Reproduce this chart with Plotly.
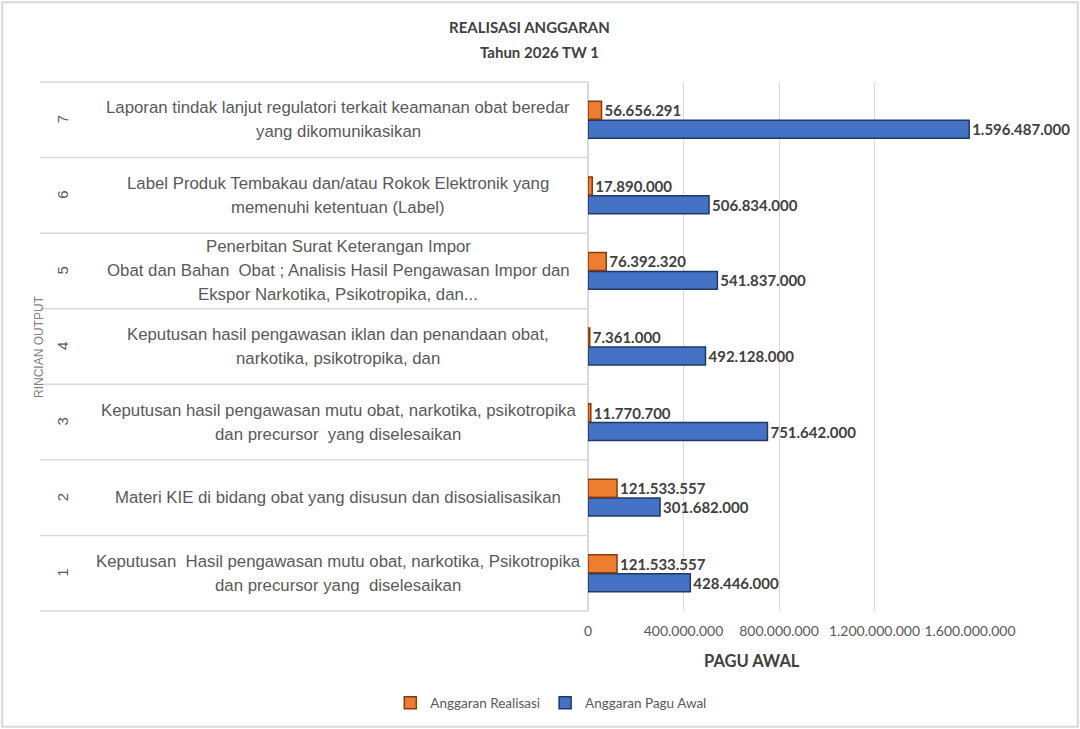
import plotly.graph_objects as go

# data
rows = ["1", "2", "3", "4", "5", "6", "7"]
row_labels = [
    ["Keputusan  Hasil pengawasan mutu obat, narkotika, Psikotropika", "dan precursor yang  diselesaikan"],
    ["Materi KIE di bidang obat yang disusun dan disosialisasikan"],
    ["Keputusan hasil pengawasan mutu obat, narkotika, psikotropika", "dan precursor  yang diselesaikan"],
    ["Keputusan hasil pengawasan iklan dan penandaan obat,", "narkotika, psikotropika, dan"],
    ["Penerbitan Surat Keterangan Impor", "Obat dan Bahan  Obat ; Analisis Hasil Pengawasan Impor dan",
     "Ekspor Narkotika, Psikotropika, dan..."],
    ["Label Produk Tembakau dan/atau Rokok Elektronik yang", "memenuhi ketentuan (Label)"],
    ["Laporan tindak lanjut regulatori terkait keamanan obat beredar", "yang dikomunikasikan"],
]
realisasi = [121533557, 121533557, 11770700, 7361000, 76392320, 17890000, 56656291]
pagu_awal = [428446000, 301682000, 751642000, 492128000, 541837000, 506834000, 1596487000]
x_ticks = [0, 400000000, 800000000, 1200000000, 1600000000]

W, H = 1080, 729
px = lambda v: v / W
py = lambda v: 1 - v / H

label_font = dict(family="Liberation Sans", size=16.8, color="#595959")
value_font = dict(family="Lato", size=15, color="#404040", weight="bold")
title_font = dict(family="Lato", size=15, color="#404040", weight="bold")

fig = go.Figure()

fig.add_trace(go.Bar(
    name="Anggaran Pagu Awal", y=rows, x=pagu_awal, orientation="h",
    marker=dict(color="#4472C4", line=dict(color="#1F3864", width=1.5)),
    text=pagu_awal, texttemplate="%{x:,}", textposition="outside",
    textfont=value_font, constraintext="none", cliponaxis=False,
    legendrank=2,
))
fig.add_trace(go.Bar(
    name="Anggaran Realisasi", y=rows, x=realisasi, orientation="h",
    marker=dict(color="#ED7D31", line=dict(color="#843C0C", width=1.5)),
    text=realisasi, texttemplate="%{x:,}", textposition="outside",
    textfont=value_font, constraintext="none", cliponaxis=False,
    legendrank=1,
))

# row labels in the category "table"
for i, lines in enumerate(row_labels):
    n = len(lines)
    for j, line in enumerate(lines):
        fig.add_annotation(
            x=px(338), xref="paper", y=i, yref="y", text=line, showarrow=False,
            xanchor="center", yanchor="middle", yshift=((n - 1) / 2 - j) * 24,
            font=label_font,
        )
    fig.add_annotation(
        x=px(52), xref="paper", y=i, yref="y", text=rows[i], showarrow=False,
        textangle=-90, font=dict(family="Liberation Sans", size=15, color="#595959"),
    )

# table lines
sep_color = "#D9D9D9"
y_top, y_bot = 82, 611
for k in range(len(rows) + 1):
    yy = y_top + (y_bot - y_top) * k / len(rows)
    fig.add_shape(type="line", xref="paper", yref="paper", x0=px(40), x1=px(588),
                  y0=py(yy), y1=py(yy), line=dict(color=sep_color, width=1.5))

# outer border
fig.add_shape(type="rect", xref="paper", yref="paper", x0=0.002, x1=0.998, y0=0.003, y1=0.997,
              line=dict(color="#D9D9D9", width=2))

fig.add_annotation(x=px(529), y=py(27), xref="paper", yref="paper", showarrow=False,
                   yanchor="middle", text="REALISASI ANGGARAN", font=title_font)
fig.add_annotation(x=px(539), y=py(52), xref="paper", yref="paper", showarrow=False,
                   yanchor="middle", text="Tahun 2026 TW 1", font=title_font)
fig.add_annotation(x=px(802), y=py(661), xref="paper", yref="paper", showarrow=False,
                   yanchor="middle", text="PAGU AWAL",
                   font=dict(family="Lato", size=16.5, color="#404040", weight="bold"))
fig.add_annotation(x=px(30), y=py(347), xref="paper", yref="paper", showarrow=False,
                   yanchor="middle", text="RINCIAN OUTPUT", textangle=-90,
                   font=dict(family="Liberation Sans", size=12, color="#7F7F7F"))

fig.update_layout(
    width=W, height=H,
    margin=dict(l=0, r=0, t=0, b=0, autoexpand=False),
    paper_bgcolor="white", plot_bgcolor="white",
    separators=",.",
    barmode="group", bargap=0.5, bargroupgap=0.05,
    showlegend=True,
    legend=dict(orientation="h", x=0.51, xanchor="center", y=py(703), yanchor="middle",
                itemwidth=30, font=dict(family="Lato", size=13.5, color="#595959")),
    xaxis=dict(domain=[px(588), px(970)], range=[0, 1600000000], tickvals=x_ticks,
               tickformat=",", tickangle=0, showgrid=True, gridcolor="#D9D9D9", gridwidth=1,
               zeroline=True, zerolinecolor="#D9D9D9", zerolinewidth=1.5, showline=False,
               automargin=False, ticklabelstandoff=10,
               tickfont=dict(family="Lato", size=14, color="#595959"), ticks=""),
    yaxis=dict(domain=[py(y_bot), py(y_top)], type="category", categoryorder="array",
               categoryarray=rows, showticklabels=False, showgrid=False, zeroline=False,
               automargin=False, range=[-0.5, 6.5]),
)

# page without body margin / scrollbars so the figure sits at the window origin
page_css = ("document.body.style.margin='0';"
            "document.body.style.overflow='hidden';"
            "document.documentElement.style.overflow='hidden';")
fig.write_html("out.html", post_script=page_css, config={"displayModeBar": False})
